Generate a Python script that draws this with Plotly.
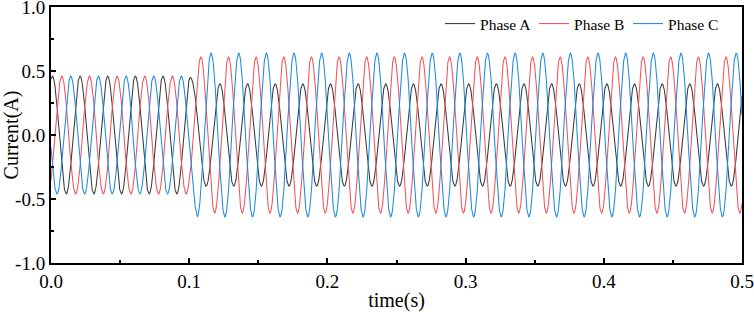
import numpy as np
import plotly.graph_objects as go

# ---- data ----
phase_names = ["Phase A", "Phase B", "Phase C"]
line_colors = ["#3a3a3a", "#f4525b", "#1b8be4"]
freq_hz = 50.0
amp_before = [0.46, 0.46, 0.46]          # peak current before the disturbance (A)
amp_after = [0.40, 0.61, 0.64]           # peak current after the disturbance (A)
peak_time_before = [0.0010, 0.0078, 0.0143]  # time of first positive peak (s)
peak_time_after = [0.0022, 0.0084, 0.0158]
event_time = 0.1                         # disturbance instant (s)
settle_time = 0.006                      # duration of the transition (s)

x_tick_vals = [0.0, 0.1, 0.2, 0.3, 0.4, 0.5]
x_tick_text = ["0.0", "0.1", "0.2", "0.3", "0.4", "0.5"]
y_tick_vals = [-1.0, -0.5, 0.0, 0.5, 1.0]
y_tick_text = ["-1.0", "-0.5", "0.0", "0.5", "1.0"]

# ---- build waveforms ----
t = np.linspace(0.0, 0.5, 6001)
w = np.clip((t - event_time) / settle_time, 0.0, 1.0)

fig = go.Figure()
for i, name in enumerate(phase_names):
    amp = amp_before[i] + (amp_after[i] - amp_before[i]) * w
    tp = peak_time_before[i] + (peak_time_after[i] - peak_time_before[i]) * w
    y = amp * np.cos(2 * np.pi * freq_hz * (t - tp))
    fig.add_trace(go.Scatter(x=t, y=y, mode="lines", name=name,
                             line=dict(color=line_colors[i], width=1.05)))

font_family = "Liberation Serif, Times New Roman, serif"
axis_common = dict(
    showline=True, linecolor="black", linewidth=2, mirror=True,
    ticks="inside", ticklen=5, tickwidth=1.5, tickcolor="black",
    showgrid=False, zeroline=False, automargin=False, ticklabeloverflow="allow",
    tickfont=dict(family=font_family, size=19, color="black"),
)

fig.update_layout(
    width=754, height=312,
    margin=dict(l=51, r=12, t=7, b=49),
    paper_bgcolor="white", plot_bgcolor="white",
    font=dict(family=font_family, color="black"),
    legend=dict(orientation="h", x=0.563, y=1.0, xanchor="left", yanchor="top",
                bgcolor="rgba(0,0,0,0)", entrywidth=49, tracegroupgap=0,
                font=dict(family=font_family, size=15.5, color="black")),
)
fig.update_xaxes(range=[0, 0.5], tickvals=x_tick_vals, ticktext=x_tick_text,
                 minor=dict(dtick=0.05, tick0=0, ticks="inside", ticklen=3, tickwidth=1.5, tickcolor="black"),
                 title=dict(text="time(s)", font=dict(family=font_family, size=20), standoff=2),
                 **axis_common)
fig.update_yaxes(range=[-1.0, 1.0], tickvals=y_tick_vals, ticktext=y_tick_text,
                 minor=dict(dtick=0.25, tick0=0, ticks="inside", ticklen=3, tickwidth=1.5, tickcolor="black"),
                 title=dict(text="Current(A)", font=dict(family=font_family, size=20), standoff=2),
                 **axis_common)

fig.write_html("out.html", config={"displayModeBar": False},
               post_script="document.body.style.margin='0';")
